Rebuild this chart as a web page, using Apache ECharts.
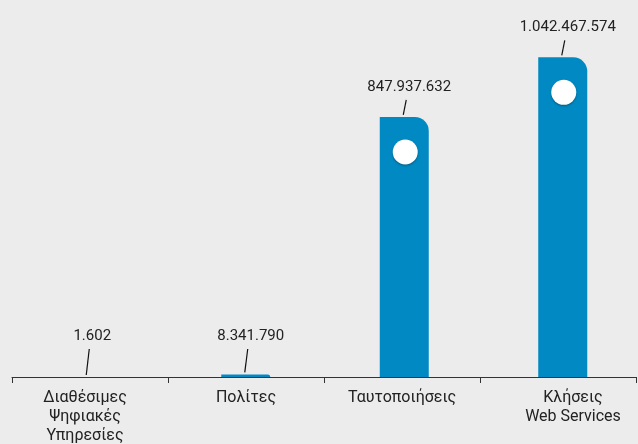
<!DOCTYPE html>
<html>
<head>
<meta charset="utf-8">
<script src="https://cdn.jsdelivr.net/npm/echarts@6/dist/echarts.min.js"></script>
<style>
html,body{margin:0;padding:0;background:#ececec;}
#chart{width:638px;height:444px;}
</style>
</head>
<body>
<div id="chart"></div>
<script>
const categories = ['Διαθέσιμες\nΨηφιακές\nΥπηρεσίες', 'Πολίτες', 'Ταυτοποιήσεις', 'Κλήσεις\nWeb Services'];
const values = [1602, 8341790, 847937632, 1042467574];

function fmt(v){ return String(v).replace(/\B(?=(\d{3})+(?!\d))/g, '.'); }

const chart = echarts.init(document.getElementById('chart'));
const BAR = '#0089c2';
const FONT = 'Roboto, "Liberation Sans", sans-serif';

chart.setOption({
  backgroundColor: '#ececec',
  animation: false,
  grid: [
    { left: 12, width: 624, top: 9, bottom: 67, outerBoundsMode: 'none', containLabel: false },
    { left: 8, width: 634, top: 9, bottom: 67, outerBoundsMode: 'none', containLabel: false }
  ],
  xAxis: [
    {
      type: 'category', gridIndex: 0,
      data: categories,
      axisLine: { lineStyle: { color: '#333', width: 1 } },
      axisTick: { show: true, length: 6, lineStyle: { color: '#333' } },
      axisLabel: {
        interval: 0, margin: 11,
        formatter: function (val, idx) {
          const key = 'p' + idx;
          return val.split('\n').map(l => '{' + key + '|' + l + '}').join('\n');
        },
        rich: {
          p0: { color: '#222', fontSize: 16, lineHeight: 19, fontFamily: FONT, padding: [0, 10, 0, 0] },
          p1: { color: '#222', fontSize: 16, lineHeight: 19, fontFamily: FONT },
          p2: { color: '#222', fontSize: 16, lineHeight: 19, fontFamily: FONT },
          p3: { color: '#222', fontSize: 16, lineHeight: 19, fontFamily: FONT, padding: [0, 0, 0, 30] }
        }
      }
    },
    {
      type: 'category', gridIndex: 1, data: categories, show: false
    }
  ],
  yAxis: [
    { type: 'value', gridIndex: 0, min: 0, max: 1200000000, show: false, splitLine: { show: false } },
    { type: 'value', gridIndex: 1, min: 0, max: 1200000000, show: false, splitLine: { show: false } }
  ],
  series: [
    {
      type: 'bar',
      xAxisIndex: 1, yAxisIndex: 1,
      data: values,
      barWidth: 49,
      itemStyle: { color: BAR, borderRadius: [0, 14, 0, 0] },
      z: 2
    },
    {
      type: 'custom',
      xAxisIndex: 1, yAxisIndex: 1,
      data: values.map((v, i) => [i, v]),
      z: 5,
      renderItem: function (params, api) {
        const i = api.value(0), v = api.value(1);
        const top = api.coord([i, v]);
        const base = api.coord([i, 0]);
        const x0 = top[0] - 1;
        const yb = top[1] - 2;
        const yt = Math.min(top[1] - 17, base[1] - 28);
        const children = [
          { type: 'line', shape: { x1: x0, y1: yb, x2: x0 + 3, y2: yt },
            style: { stroke: '#111', lineWidth: 1.2 } },
          { type: 'text', x: x0 + 6, y: yt - 13,
            style: { text: fmt(v), fill: '#222', font: '15px ' + FONT,
                     align: 'center', verticalAlign: 'middle' } }
        ];
        if (base[1] - top[1] > 60) {
          children.push({ type: 'circle', shape: { cx: top[0] + 1, cy: top[1] + 35, r: 12.5 },
            style: { fill: '#fff', shadowBlur: 2, shadowOffsetY: 1, shadowColor: 'rgba(0,0,0,0.35)' } });
        }
        return { type: 'group', children: children };
      }
    }
  ]
});
</script>
</body>
</html>
